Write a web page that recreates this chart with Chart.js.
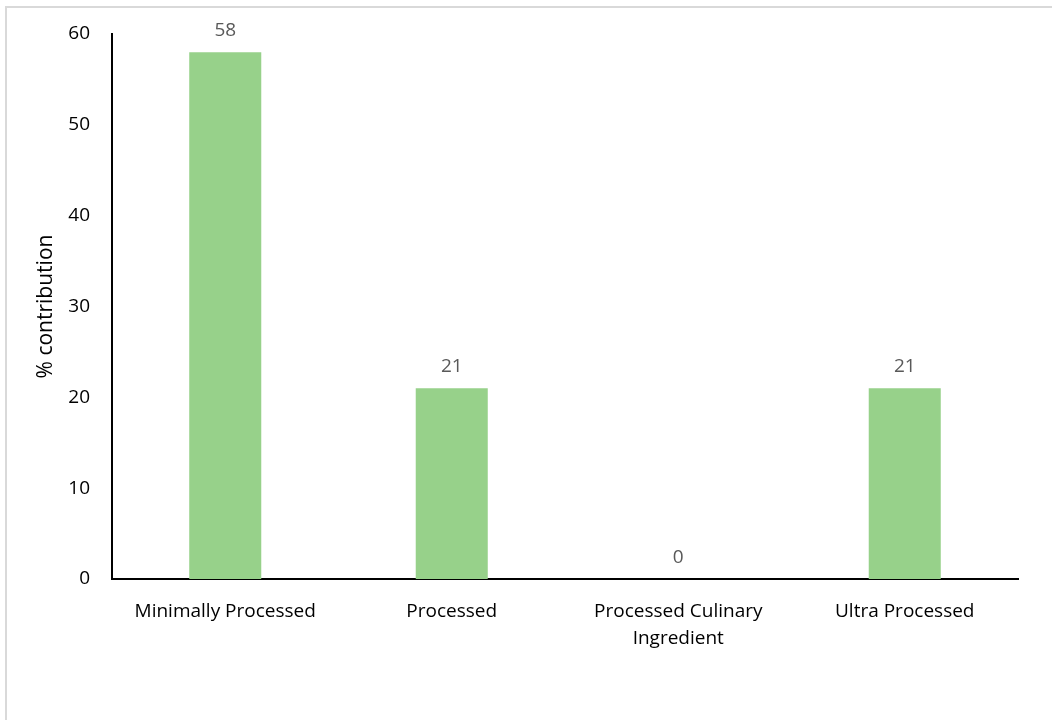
<!DOCTYPE html>
<html>
<head>
<meta charset="utf-8">
<script src="https://cdn.jsdelivr.net/npm/chart.js@4.4.1/dist/chart.umd.min.js"></script>
<style>
  html, body { margin: 0; padding: 0; background: #fff; }
  #wrap { position: absolute; left: 0; top: 0; width: 1052px; height: 720px; }
  #frame { position: absolute; left: 5px; top: 6px; width: 1100px; height: 800px;
           border-left: 2px solid #d9d9d9; border-top: 2px solid #d9d9d9; }
  canvas { position: absolute; left: 0; top: 0; }
</style>
</head>
<body>
<div id="wrap">
  <div id="frame"></div>
  <canvas id="mychart" width="1052" height="720"></canvas>
</div>
<script>
  var categories = ['Minimally Processed', 'Processed', ['Processed Culinary', 'Ingredient'], 'Ultra Processed'];
  var contribution = [58, 21, 0, 21];
  var yTicks = [0, 10, 20, 30, 40, 50, 60];

  var fontFamily = "'Open Sans', Lato, sans-serif";

  // write each bar's value a little above its top
  var valueLabels = {
    id: 'valueLabels',
    afterDatasetsDraw: function (chart) {
      var ctx = chart.ctx;
      var meta = chart.getDatasetMeta(0);
      ctx.save();
      ctx.font = '19px ' + fontFamily;
      ctx.fillStyle = '#595959';
      ctx.textAlign = 'center';
      ctx.textBaseline = 'alphabetic';
      meta.data.forEach(function (bar, i) {
        ctx.fillText(String(contribution[i]), bar.x, bar.y - 16);
      });
      ctx.restore();
    }
  };

  var ctx = document.getElementById('mychart').getContext('2d');
  var chart = new Chart(ctx, {
    type: 'bar',
    data: {
      labels: categories,
      datasets: [{
        data: contribution,
        backgroundColor: '#97d18a',
        borderWidth: 0,
        categoryPercentage: 1,
        barPercentage: 0.318
      }]
    },
    options: {
      responsive: false,
      animation: false,
      layout: { padding: { top: 34, right: 34, bottom: 0, left: 0 } },
      plugins: {
        legend: { display: false },
        tooltip: { enabled: false }
      },
      scales: {
        x: {
          grid: { display: false, drawTicks: false },
          border: { color: '#000', width: 2 },
          ticks: {
            color: '#000',
            padding: 19,
            maxRotation: 0,
            autoSkip: false,
            font: { family: fontFamily, size: 19, lineHeight: 1.42 }
          },
          afterFit: function (scale) { scale.height = 141; }
        },
        y: {
          min: 0,
          max: 60,
          afterBuildTicks: function (scale) {
            scale.ticks = yTicks.map(function (v) { return { value: v }; });
          },
          grid: { display: false, drawTicks: false },
          border: { color: '#000', width: 2 },
          ticks: {
            color: '#000',
            padding: 22,
            font: { family: fontFamily, size: 19 }
          },
          title: {
            display: true,
            text: '% contribution',
            color: '#000',
            padding: { top: 33, bottom: 0 },
            font: { family: fontFamily, size: 21 }
          },
          afterFit: function (scale) { scale.width = 112; }
        }
      }
    },
    plugins: [valueLabels]
  });
</script>
</body>
</html>
